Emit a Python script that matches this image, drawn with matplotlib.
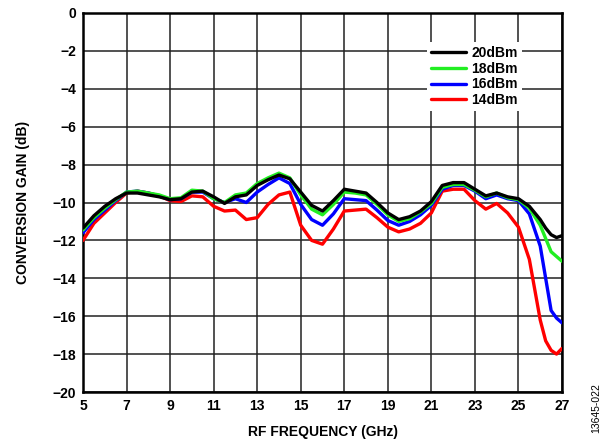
import matplotlib
matplotlib.use("Agg")
import matplotlib.pyplot as plt

plt.rcParams['font.family'] = ['Liberation Sans', 'DejaVu Sans']

freq = [5, 5.5, 6, 6.5, 7, 7.5, 8, 8.5, 9, 9.5, 10, 10.5, 11, 11.5, 12, 12.5,
        13, 13.5, 14, 14.5, 15, 15.5, 16, 16.5, 17, 17.5, 18, 18.5, 19, 19.5,
        20, 20.5, 21, 21.5, 22, 22.5, 23, 23.5, 24, 24.5, 25, 25.5, 26, 26.25,
        26.5, 26.75, 27]

g20 = [-11.35, -10.7, -10.2, -9.8, -9.5, -9.5, -9.6, -9.7, -9.85, -9.8, -9.45, -9.4,
       -9.7, -10.05, -9.7, -9.6, -9.1, -8.8, -8.55, -8.75, -9.45, -10.15, -10.45, -9.9,
       -9.3, -9.4, -9.5, -10.0, -10.55, -10.9, -10.75, -10.45, -9.95, -9.1, -8.95, -8.95,
       -9.3, -9.65, -9.5, -9.7, -9.8, -10.2, -10.9, -11.35, -11.7, -11.85, -11.75]

g18 = [-11.45, -10.8, -10.3, -9.85, -9.45, -9.4, -9.5, -9.6, -9.8, -9.75, -9.35, -9.4,
       -9.8, -10.0, -9.6, -9.5, -9.0, -8.7, -8.45, -8.7, -9.6, -10.35, -10.65, -10.1,
       -9.45, -9.5, -9.6, -10.1, -10.65, -11.0, -10.85, -10.5, -10.05, -9.2, -9.05, -9.05,
       -9.35, -9.7, -9.5, -9.75, -9.85, -10.3, -11.2, -11.9, -12.6, -12.85, -13.1]

g16 = [-11.6, -10.9, -10.4, -9.9, -9.45, -9.4, -9.5, -9.65, -9.85, -9.8, -9.45, -9.45,
       -9.8, -10.0, -9.8, -10.0, -9.45, -9.05, -8.7, -9.0, -10.1, -10.9, -11.2, -10.6,
       -9.8, -9.85, -9.9, -10.4, -10.95, -11.2, -11.0, -10.65, -10.15, -9.3, -9.1, -9.1,
       -9.4, -9.8, -9.6, -9.8, -9.9, -10.6, -12.3, -14.0, -15.7, -16.1, -16.35]

g14 = [-12.0, -11.1, -10.55, -10.0, -9.5, -9.4, -9.5, -9.65, -9.9, -9.95, -9.65, -9.7,
       -10.2, -10.45, -10.4, -10.9, -10.8, -10.1, -9.6, -9.45, -11.2, -12.0, -12.2, -11.4,
       -10.45, -10.4, -10.35, -10.8, -11.3, -11.55, -11.4, -11.1, -10.55, -9.4, -9.3, -9.3,
       -9.9, -10.35, -10.05, -10.55, -11.3, -13.0, -16.2, -17.3, -17.8, -18.0, -17.7]

labels = ['20dBm', '18dBm', '16dBm', '14dBm']
colors = ['#000000', '#22ee22', '#0000ff', '#ff0000']
xticks = [5, 7, 9, 11, 13, 15, 17, 19, 21, 23, 25, 27]
yticks = [0, -2, -4, -6, -8, -10, -12, -14, -16, -18, -20]

fig = plt.figure(figsize=(6.05, 4.46), dpi=100)
ax = fig.add_axes([83/605, 1-392/446, (562-83)/605, (392-13)/446])

series = [g20, g18, g16, g14]
handles = [None]*4
for i in [3, 2, 1, 0]:
    h, = ax.plot(freq, series[i], color=colors[i], lw=2.4, solid_joinstyle='round',
                 solid_capstyle='round', zorder=3+(3-i))
    handles[i] = h

ax.set_xlim(5, 27)
ax.set_ylim(-20, 0)
ax.set_xticks(xticks)
ax.set_yticks(yticks)
ax.grid(True, color='#222222', lw=1.1)
ax.set_axisbelow(True)
for s in ax.spines.values():
    s.set_linewidth(1.8)
    s.set_color('black')
ax.tick_params(length=0, labelsize=10, pad=5)
for t in ax.get_xticklabels() + ax.get_yticklabels():
    t.set_fontweight('bold')

ax.set_xlabel('RF FREQUENCY (GHz)', fontsize=10, fontweight='bold', labelpad=9)
ax.set_ylabel('CONVERSION GAIN (dB)', fontsize=10, fontweight='bold', labelpad=16)

leg = ax.legend(handles, labels, loc='upper left',
                bbox_to_anchor=(427/605, 1-42/446), bbox_transform=fig.transFigure,
                frameon=True, fancybox=False, framealpha=1, facecolor='white',
                edgecolor='none', borderpad=0.3, labelspacing=0.12,
                handlelength=2.5, handletextpad=0.4, borderaxespad=0,
                prop={'weight': 'bold', 'size': 10})
leg.set_zorder(10)

fig.text(596/605, 1-408/446, '13645-022', rotation=90, fontsize=7.5,
         ha='center', va='center')

fig.savefig('out.png', dpi=100)
